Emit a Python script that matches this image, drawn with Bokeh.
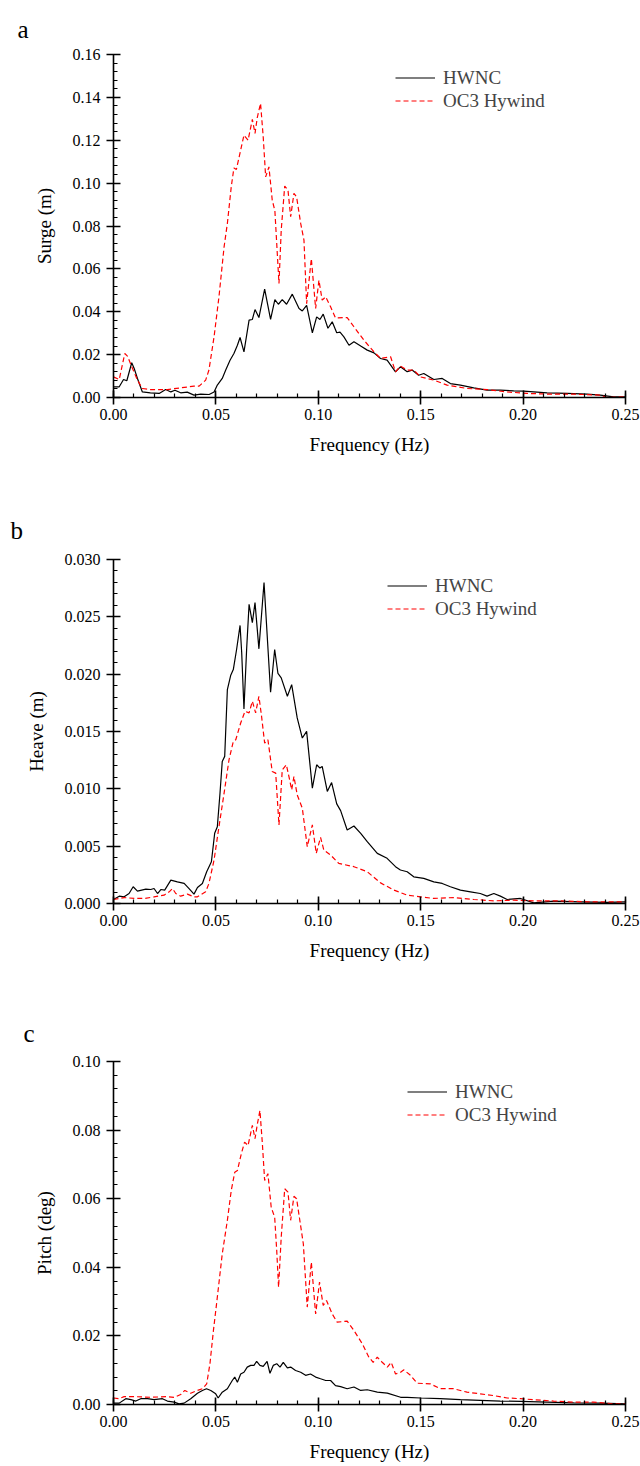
from bokeh.plotting import figure
from bokeh.layouts import column
from bokeh.models import (Range1d, FixedTicker, Legend, LegendItem,
                          NumeralTickFormatter)
from bokeh.embed import file_html
from bokeh.resources import INLINE

FONT = "Liberation Serif"

# ---------------- data ----------------
x_ticks = [0, 0.05, 0.1, 0.15, 0.2, 0.25]

# Panel a: Surge (m)
surge_hwnc_f = [0, 0.0028, 0.0049, 0.0065, 0.0089, 0.0101, 0.0117, 0.0141, 0.018, 0.0223, 0.0255, 0.028, 0.030,
                0.0328, 0.036, 0.0393, 0.0426, 0.0467, 0.0491, 0.0507, 0.0531, 0.0548, 0.0569, 0.0588, 0.0605,
                0.0618, 0.0637, 0.0662, 0.0678, 0.0691, 0.071, 0.0738, 0.0767, 0.0788, 0.0805, 0.0824, 0.0845,
                0.0873, 0.0906, 0.0922, 0.0943, 0.0971, 0.0992, 0.1008, 0.1024, 0.1047, 0.1068, 0.109, 0.1106,
                0.1125, 0.115, 0.1174, 0.1207, 0.1239, 0.1272, 0.1304, 0.1336, 0.1377, 0.1401, 0.1434, 0.1458,
                0.149, 0.1515, 0.1564, 0.1605, 0.1645, 0.1694, 0.1759, 0.1824, 0.1889, 0.1954, 0.2003, 0.2117,
                0.2215, 0.2312, 0.2377, 0.2442, 0.25]
surge_hwnc = [0.005, 0.005, 0.0084, 0.0078, 0.0162, 0.0135, 0.0089, 0.0026, 0.0022, 0.0019, 0.0037, 0.0026, 0.0034,
              0.0022, 0.0025, 0.0011, 0.0016, 0.0014, 0.0026, 0.0058, 0.0089, 0.0128, 0.0174, 0.0205, 0.0244,
              0.028, 0.0213, 0.0361, 0.0364, 0.041, 0.0373, 0.0505, 0.0364, 0.0457, 0.0435, 0.0457, 0.0435,
              0.0482, 0.0415, 0.0404, 0.043, 0.0302, 0.0376, 0.0364, 0.0389, 0.0323, 0.0353, 0.0302, 0.0305,
              0.0283, 0.0244, 0.026, 0.024, 0.0221, 0.0208, 0.0182, 0.0174, 0.012, 0.0143, 0.012, 0.0128,
              0.0104, 0.0112, 0.0084, 0.0089, 0.0065, 0.0058, 0.0045, 0.0034, 0.0034, 0.0031, 0.003, 0.0022,
              0.0019, 0.0016, 0.0011, 0.0003, 0.0003]

surge_oc3_f = [0, 0.0028, 0.0055, 0.0068, 0.0093, 0.0117, 0.0141, 0.018, 0.0263, 0.0328, 0.0393, 0.0418, 0.045,
               0.0466, 0.0491, 0.0515, 0.054, 0.0556, 0.0575, 0.0588, 0.06, 0.0621, 0.0637, 0.0657, 0.0678,
               0.0691, 0.0702, 0.0718, 0.0731, 0.0743, 0.0759, 0.0775, 0.0788, 0.0797, 0.0808, 0.0819, 0.0836,
               0.0852, 0.0865, 0.0881, 0.0894, 0.0914, 0.093, 0.0943, 0.0966, 0.0987, 0.1003, 0.1019, 0.1036,
               0.106, 0.1084, 0.1141, 0.1174, 0.1223, 0.1272, 0.1304, 0.1353, 0.1377, 0.1401, 0.1434, 0.1466,
               0.1499, 0.1564, 0.1629, 0.1727, 0.1824, 0.1922, 0.2019, 0.2117, 0.2247, 0.2377, 0.241, 0.25]
surge_oc3 = [0.0096, 0.0084, 0.0205, 0.0193, 0.0135, 0.0081, 0.0042, 0.0037, 0.0037, 0.0045, 0.0053, 0.0053, 0.0081,
             0.0128, 0.0283, 0.047, 0.0703, 0.0812, 0.0983, 0.1071, 0.1064, 0.1154, 0.1224, 0.12, 0.1297,
             0.1232, 0.1306, 0.1372, 0.1216, 0.1029, 0.1076, 0.0921, 0.0871, 0.0718, 0.0532, 0.0781, 0.0986,
             0.0967, 0.0843, 0.0952, 0.0936, 0.0812, 0.0734, 0.0438, 0.0648, 0.0415, 0.0547, 0.0454, 0.047,
             0.0423, 0.0371, 0.0373, 0.033, 0.0267, 0.0213, 0.0182, 0.019, 0.012, 0.0146, 0.0128, 0.0128,
             0.0096, 0.0081, 0.0058, 0.0042, 0.0037, 0.0026, 0.0019, 0.0016, 0.0016, 0.0011, 0.0, 0.0003]

# Panel b: Heave (m)
heave_hwnc_f = [0, 0.0028, 0.0052, 0.0076, 0.0096, 0.0117, 0.0158, 0.0182, 0.0198, 0.0215, 0.0231, 0.025, 0.028,
                0.0312, 0.0345, 0.0369, 0.0393, 0.041, 0.0434, 0.0455, 0.0478, 0.0494, 0.0507, 0.052, 0.0531,
                0.0543, 0.0556, 0.0572, 0.0585, 0.0601, 0.0618, 0.0626, 0.0637, 0.065, 0.0662, 0.0678, 0.0691,
                0.071, 0.0735, 0.0767, 0.0787, 0.0803, 0.0819, 0.0849, 0.087, 0.0897, 0.0922, 0.0943, 0.0971,
                0.0992, 0.1008, 0.1019, 0.1044, 0.1065, 0.109, 0.1109, 0.1141, 0.1174, 0.1207, 0.1239, 0.1288,
                0.1336, 0.1377, 0.1401, 0.1434, 0.1466, 0.1515, 0.1564, 0.1605, 0.1645, 0.1694, 0.1743, 0.1791,
                0.1824, 0.1857, 0.1889, 0.1922, 0.1987, 0.2052, 0.2149, 0.2279, 0.241, 0.25]
heave_hwnc = [0.00035, 0.00064, 0.00058, 0.00087, 0.00146, 0.00108, 0.00125, 0.00122, 0.00131, 0.00087, 0.00122,
              0.00117, 0.00204, 0.00189, 0.00175, 0.0013, 0.00082, 0.0014, 0.00175, 0.00277, 0.00364, 0.00612,
              0.0067, 0.00962, 0.01239, 0.01283, 0.01866, 0.01988, 0.0204, 0.02215, 0.02425, 0.02186, 0.01697,
              0.02215, 0.02609, 0.02449, 0.02624, 0.02221, 0.028, 0.01842, 0.02215, 0.02006, 0.01968, 0.01807,
              0.01909, 0.01618, 0.01443, 0.01501, 0.01006, 0.0121, 0.01181, 0.01195, 0.00977, 0.01055, 0.00869,
              0.0081, 0.00641, 0.00676, 0.00612, 0.00539, 0.00437, 0.00394, 0.00321, 0.00292, 0.00277, 0.00233,
              0.00219, 0.00189, 0.00175, 0.00146, 0.00117, 0.00102, 0.00087, 0.00064, 0.00087, 0.00064, 0.00035,
              0.00044, 0.00006, 0.0002, 0.00015, 0.0001, 0.00015]

heave_oc3_f = [0, 0.0052, 0.0101, 0.015, 0.0198, 0.0247, 0.0272, 0.0288, 0.0304, 0.0328, 0.0361, 0.0393, 0.041,
               0.045, 0.0466, 0.0491, 0.0515, 0.054, 0.0564, 0.0585, 0.0597, 0.0621, 0.0642, 0.0662, 0.0678,
               0.0694, 0.071, 0.0723, 0.0738, 0.0754, 0.0775, 0.0792, 0.0808, 0.0824, 0.0844, 0.086, 0.087,
               0.0881, 0.0897, 0.0922, 0.0946, 0.0971, 0.099, 0.1011, 0.1027, 0.106, 0.11, 0.1174, 0.1239,
               0.1304, 0.1369, 0.1434, 0.1499, 0.1564, 0.1662, 0.1759, 0.1857, 0.1954, 0.2052, 0.2182, 0.2312, 0.25]
heave_oc3 = [0.00035, 0.00052, 0.00044, 0.00044, 0.00058, 0.00073, 0.00102, 0.00131, 0.00087, 0.00064, 0.00082,
             0.00058, 0.00058, 0.00102, 0.00175, 0.00379, 0.0067, 0.00962, 0.01253, 0.01414, 0.01428, 0.01574,
             0.01676, 0.01662, 0.01764, 0.01662, 0.01807, 0.01632, 0.01399, 0.01428, 0.01151, 0.01137, 0.00685,
             0.01166, 0.0121, 0.01079, 0.00991, 0.01108, 0.00947, 0.00831, 0.00496, 0.00685, 0.00437, 0.00577,
             0.00466, 0.00423, 0.0035, 0.00321, 0.00277, 0.0018, 0.00117, 0.00073, 0.00058, 0.00044, 0.00052,
             0.00035, 0.00023, 0.00029, 0.00023, 0.00023, 0.00015, 0.00015]

# Panel c: Pitch (deg)
pitch_hwnc_f = [0, 0.0028, 0.006, 0.0085, 0.0109, 0.0133, 0.0166, 0.0198, 0.0239, 0.0263, 0.0296, 0.032, 0.0345,
                0.0377, 0.041, 0.0434, 0.0454, 0.0475, 0.0499, 0.0511, 0.0531, 0.0556, 0.058, 0.0592, 0.0605,
                0.0621, 0.0637, 0.0653, 0.067, 0.0686, 0.0699, 0.0715, 0.0731, 0.075, 0.0764, 0.078, 0.0797,
                0.0813, 0.0829, 0.0849, 0.0865, 0.0889, 0.0914, 0.0938, 0.0962, 0.0987, 0.1011, 0.1036, 0.106,
                0.1084, 0.1109, 0.1141, 0.1174, 0.1207, 0.1239, 0.1288, 0.1337, 0.1402, 0.1434, 0.1499, 0.1596,
                0.1694, 0.1791, 0.1889, 0.1987, 0.2117, 0.2247, 0.2377, 0.25]
pitch_hwnc = [0.0004, 0.0004, 0.0017, 0.0014, 0.001, 0.0017, 0.0017, 0.0014, 0.0017, 0.001, 0.0007, 0.0002, 0.0004,
              0.0017, 0.0033, 0.0041, 0.0046, 0.0041, 0.0031, 0.0019, 0.0036, 0.0046, 0.007, 0.008, 0.0065,
              0.0089, 0.0094, 0.0109, 0.0114, 0.0114, 0.0126, 0.0114, 0.0111, 0.0126, 0.0091, 0.0114, 0.0119,
              0.0109, 0.0123, 0.0107, 0.0109, 0.0099, 0.0094, 0.0085, 0.0089, 0.008, 0.0075, 0.007, 0.007,
              0.0055, 0.0052, 0.0046, 0.0051, 0.0041, 0.0043, 0.0036, 0.0033, 0.0021, 0.0021, 0.0019, 0.0017,
              0.0014, 0.0012, 0.001, 0.0009, 0.0007, 0.0005, 0.0004, 0.0002]

pitch_oc3_f = [0, 0.0028, 0.0052, 0.0101, 0.0182, 0.0263, 0.0296, 0.0328, 0.0348, 0.0377, 0.041, 0.0434, 0.0455,
               0.0471, 0.0488, 0.0507, 0.0531, 0.0556, 0.0575, 0.0592, 0.0605, 0.0624, 0.064, 0.0657, 0.0678,
               0.0691, 0.0702, 0.0715, 0.0727, 0.0738, 0.0754, 0.077, 0.0787, 0.0797, 0.0806, 0.0819, 0.0836,
               0.0852, 0.0865, 0.0881, 0.0894, 0.0905, 0.0927, 0.0946, 0.0966, 0.0987, 0.1006, 0.1024, 0.104,
               0.1068, 0.1092, 0.1141, 0.1174, 0.1215, 0.1247, 0.1268, 0.1288, 0.1312, 0.1337, 0.1356, 0.1377,
               0.1402, 0.1418, 0.145, 0.1483, 0.1548, 0.1596, 0.1661, 0.1726, 0.1791, 0.1857, 0.1922, 0.1987,
               0.2052, 0.2149, 0.2247, 0.2344, 0.2442, 0.25]
pitch_oc3 = [0.0019, 0.0017, 0.0023, 0.0023, 0.0021, 0.0023, 0.0021, 0.0029, 0.0041, 0.0033, 0.0041, 0.0046, 0.006,
             0.0119, 0.0216, 0.0313, 0.0439, 0.0537, 0.0624, 0.0677, 0.0682, 0.0731, 0.0765, 0.0755, 0.0814,
             0.0775, 0.0816, 0.0857, 0.076, 0.0653, 0.0673, 0.0575, 0.0546, 0.0449, 0.0342, 0.0488, 0.0629,
             0.0619, 0.0537, 0.0607, 0.06, 0.0556, 0.0468, 0.0284, 0.0415, 0.0264, 0.0357, 0.0289, 0.0303,
             0.0264, 0.024, 0.0243, 0.0216, 0.0177, 0.0138, 0.0123, 0.0138, 0.0123, 0.0109, 0.0123, 0.0089,
             0.0094, 0.0101, 0.0085, 0.0062, 0.006, 0.0046, 0.0046, 0.0036, 0.0031, 0.0026, 0.0019, 0.0017,
             0.0014, 0.001, 0.0007, 0.0007, 0.0002, 0.0002]


def make_panel(letter, letter_offset, letter_standoff, ylabel, ymax, ystep, yfmt,
               f1, v1, f2, v2, height, top, bottom, legend_loc):
    p = figure(width=640, height=height, x_range=Range1d(0, 0.25), y_range=Range1d(0, ymax),
               output_backend="svg", toolbar_location=None, title=letter,
               min_border_left=113, min_border_right=15,
               min_border_top=top, min_border_bottom=bottom)
    p.outline_line_color = None
    p.grid.visible = False
    p.background_fill_color = "white"
    p.border_fill_color = "white"

    p.title.text_font = FONT
    p.title.text_font_size = "25px"
    p.title.text_font_style = "normal"
    p.title.text_color = "black"
    p.title.align = "left"
    p.title.offset = letter_offset
    p.title.standoff = letter_standoff

    r1 = p.line(f1, v1, line_color="black", line_width=1.2)
    r2 = p.line(f2, v2, line_color="red", line_width=1.2, line_dash="5 3")

    nmaj = int(round(ymax / ystep))
    yt = [round(i * ystep, 6) for i in range(nmaj + 1)]
    ymin = [round(i * ystep / 5, 6) for i in range(nmaj * 5 + 1)]
    p.yaxis.ticker = FixedTicker(ticks=yt, minor_ticks=ymin)
    p.xaxis.ticker = FixedTicker(ticks=x_ticks, minor_ticks=[round(i * 0.01, 4) for i in range(26)])
    p.xaxis.formatter = NumeralTickFormatter(format="0.00")
    p.yaxis.formatter = NumeralTickFormatter(format=yfmt)

    for ax in (p.xaxis[0], p.yaxis[0]):
        ax.axis_line_width = 1.6
        ax.axis_line_color = "black"
        ax.major_tick_line_width = 1.6
        ax.major_tick_line_color = "black"
        ax.minor_tick_line_width = 1.2
        ax.minor_tick_line_color = "black"
        ax.major_tick_in = 7
        ax.major_tick_out = 7
        ax.minor_tick_in = 4
        ax.minor_tick_out = 0
        ax.major_label_text_font = FONT
        ax.major_label_text_font_size = "16px"
        ax.major_label_text_color = "black"
        ax.axis_label_text_font = FONT
        ax.axis_label_text_font_size = "19px"
        ax.axis_label_text_font_style = "normal"
        ax.axis_label_text_color = "black"
    p.xaxis.major_label_standoff = 4
    p.yaxis.major_label_standoff = 6

    p.xaxis.axis_label = "Frequency (Hz)"
    p.xaxis.axis_label_standoff = 11
    p.yaxis.axis_label = ylabel
    p.yaxis.axis_label_standoff = 15

    legend = Legend(items=[LegendItem(label="HWNC", renderers=[r1]),
                           LegendItem(label="OC3 Hywind", renderers=[r2])],
                    location=legend_loc, orientation="vertical",
                    label_text_font=FONT, label_text_font_size="19px",
                    glyph_width=40, glyph_height=23, label_height=23,
                    label_standoff=8, spacing=0, padding=0, margin=0,
                    border_line_color=None, background_fill_alpha=0)
    p.add_layout(legend)
    return p


pa = make_panel("a", -96, 24, "Surge (m)", 0.16, 0.02, "0.00",
                surge_hwnc_f, surge_hwnc, surge_oc3_f, surge_oc3,
                height=463, top=54, bottom=66, legend_loc=(282, 285))
pb = make_panel("b", -103, 31, "Heave (m)", 0.03, 0.005, "0.000",
                heave_hwnc_f, heave_hwnc, heave_oc3_f, heave_oc3,
                height=506, top=96, bottom=66, legend_loc=(274, 283))
pc = make_panel("c", -90, 30, "Pitch (deg)", 0.10, 0.02, "0.00",
                pitch_hwnc_f, pitch_hwnc, pitch_oc3_f, pitch_oc3,
                height=497, top=92, bottom=62, legend_loc=(294, 278))

layout = column(pa, pb, pc, spacing=0)
open("out.html", "w").write(file_html(layout, INLINE))
